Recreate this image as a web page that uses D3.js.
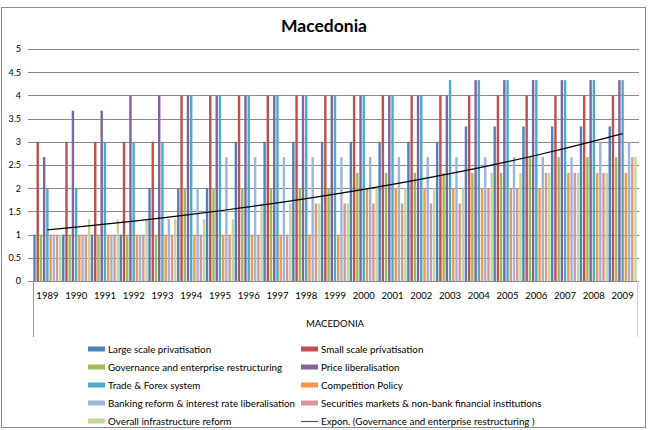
<!DOCTYPE html>
<html><head><meta charset="utf-8">
<script src="https://cdn.jsdelivr.net/npm/d3@7"></script>
<style>
body{margin:0;background:#fff}
text{font-family:Lato,"Open Sans",sans-serif;fill:#000}
</style>
</head><body>
<svg id="chart" width="648" height="430"></svg>
<script>
const title = "Macedonia";
const groupLabel = "MACEDONIA";
const years = ["1989","1990","1991","1992","1993","1994","1995","1996","1997","1998","1999","2000","2001","2002","2003","2004","2005","2006","2007","2008","2009"];
const largeScale     = [1,1,1,1,2,2,2,3,3,3,3,3,3,3,3,3.33,3.33,3.33,3.33,3.33,3.33];
const smallScale     = [3,3,3,3,3,4,4,4,4,4,4,4,4,4,4,4,4,4,4,4,4];
const governance     = [1,1,1,1,1,2,2,2,2,2,2,2.33,2.33,2.33,2.33,2.33,2.33,2.67,2.67,2.67,2.67];
const priceLib       = [2.67,3.67,3.67,4,4,4,4,4,4,4,4,4,4,4,4,4.33,4.33,4.33,4.33,4.33,4.33];
const tradeForex     = [2,2,3,3,3,4,4,4,4,4,4,4,4,4,4.33,4.33,4.33,4.33,4.33,4.33,4.33];
const competition    = [1,1,1,1,1,1,1,1,1,1,1,2,2,2,2,2,2,2,2.33,2.33,2.33];
const banking        = [1,1,1,1,1.33,2,2.67,2.67,2.67,2.67,2.67,2.67,2.67,2.67,2.67,2.67,2.67,2.67,2.67,3,3];
const securities     = [1,1,1,1,1,1,1,1,1,1.67,1.67,1.67,1.67,1.67,1.67,2,2,2.33,2.33,2.33,2.67];
const infrastructure = [1,1.33,1.33,1.33,1.33,1.33,1.33,1.67,1.67,1.67,1.67,2,2,2,2,2.33,2.33,2.33,2.33,2.33,2.67];
const seriesNames = ["Large scale privatisation","Small scale privatisation","Governance and enterprise restructuring","Price liberalisation","Trade & Forex system","Competition Policy","Banking reform & interest rate liberalisation","Securities markets & non-bank financial institutions","Overall infrastructure reform"];
const seriesValues = [largeScale,smallScale,governance,priceLib,tradeForex,competition,banking,securities,infrastructure];
const seriesColors = ["#4F81BD","#C0504D","#9BBB59","#8064A2","#4BACC6","#F79646","#9DB4DF","#D99694","#C3D69B"];
const trendName = "Expon. (Governance and enterprise restructuring )";
const yTicks = [0,0.5,1,1.5,2,2.5,3,3.5,4,4.5,5];

const svg = d3.select("#chart");
const L = 33, R = 637, T = 49, B = 281;

svg.append("rect").attr("x",1.5).attr("y",7.5).attr("width",644).attr("height",420)
  .attr("fill","#fff").attr("stroke","#8c8c8c").attr("stroke-width",1);

svg.append("text").attr("x",324).attr("y",32).attr("text-anchor","middle")
  .attr("font-size",17.5).attr("font-weight","bold").text(title);

const y = d3.scaleLinear().domain([0,5]).range([B,T]);
const x0 = d3.scaleBand().domain(years).range([L,R]).paddingInner(0.02).paddingOuter(0.01);
const x1 = d3.scaleBand().domain(d3.range(seriesNames.length)).range([0,x0.bandwidth()]).paddingInner(0.25);

// gridlines
svg.append("g").selectAll("line").data(yTicks).join("line")
  .attr("x1",28).attr("x2",R+2).attr("y1",d=>Math.round(y(d))+0.5).attr("y2",d=>Math.round(y(d))+0.5)
  .attr("stroke","#8a8a8a").attr("stroke-width",1);

// y axis labels
const yAxis = d3.axisLeft(y).tickValues(yTicks).tickSize(0).tickPadding(0).tickFormat(d3.format("~g"));
const ga = svg.append("g").attr("transform",`translate(${L-12},0)`).call(yAxis);
ga.select(".domain").remove();
ga.selectAll("text").attr("font-size",9).style("font-family","Lato, 'Open Sans', sans-serif");

// bars
const data = years.map((yr,i)=>({yr, vals: seriesValues.map(s=>s[i])}));
const groups = svg.append("g").selectAll("g").data(data).join("g")
  .attr("transform",d=>`translate(${x0(d.yr)},0)`);
groups.selectAll("rect").data(d=>d.vals.map((v,k)=>({v,k}))).join("rect")
  .attr("x",d=>x1(d.k)).attr("width",x1.bandwidth())
  .attr("y",d=>y(d.v)).attr("height",d=>B-y(d.v))
  .attr("fill",d=>seriesColors[d.k]);

// category axis
const xAxis = d3.axisBottom(x0).tickSize(0).tickPadding(11);
const gx = svg.append("g").attr("transform",`translate(0,${B})`).call(xAxis);
gx.select(".domain").attr("stroke","#8a8a8a");
gx.selectAll("text").attr("font-size",9.5).style("font-family","Lato, 'Open Sans', sans-serif");
svg.append("line").attr("x1",L+0.5).attr("x2",L+0.5).attr("y1",B).attr("y2",337).attr("stroke","#9a9a9a");
svg.append("line").attr("x1",R+0.5).attr("x2",R+0.5).attr("y1",B).attr("y2",337).attr("stroke","#d0d0d0");
svg.append("text").attr("x",(L+R)/2).attr("y",327).attr("text-anchor","middle")
  .attr("font-size",9.5).text(groupLabel);

// exponential trendline (least squares on ln y)
const xs = years.map((_,i)=>i+1);
const lny = governance.map(Math.log);
const mx = d3.mean(xs), my = d3.mean(lny);
const b = d3.sum(xs.map((xv,i)=>(xv-mx)*(lny[i]-my)))/d3.sum(xs.map(xv=>(xv-mx)*(xv-mx)));
const a = Math.exp(my - b*mx);
const trend = years.map((yr,i)=>({yr, v: a*Math.exp(b*(i+1))}));
svg.append("path").datum(trend)
  .attr("d",d3.line().x(d=>x0(d.yr)+x0.bandwidth()/2).y(d=>y(d.v)))
  .attr("fill","none").attr("stroke","#000").attr("stroke-width",1.2);

// legend
const legendItems = seriesNames.map((n,k)=>({name:n,color:seriesColors[k],type:"bar"}))
  .concat([{name:trendName,color:"#000",type:"line"}]);
const lg = svg.append("g").selectAll("g").data(legendItems).join("g")
  .attr("transform",(d,i)=>`translate(${i%2===0?88:301},${349+Math.floor(i/2)*18})`);
lg.filter(d=>d.type==="bar").append("rect").attr("x",0).attr("y",-2.5).attr("width",17).attr("height",5).attr("fill",d=>d.color);
lg.filter(d=>d.type==="line").append("line").attr("x1",0).attr("x2",17).attr("y1",0.5).attr("y2",0.5).attr("stroke","#555").attr("stroke-width",1.2);
lg.append("text").attr("x",20).attr("y",3.6).attr("font-size",9.8).text(d=>d.name);
</script>
</body></html>
